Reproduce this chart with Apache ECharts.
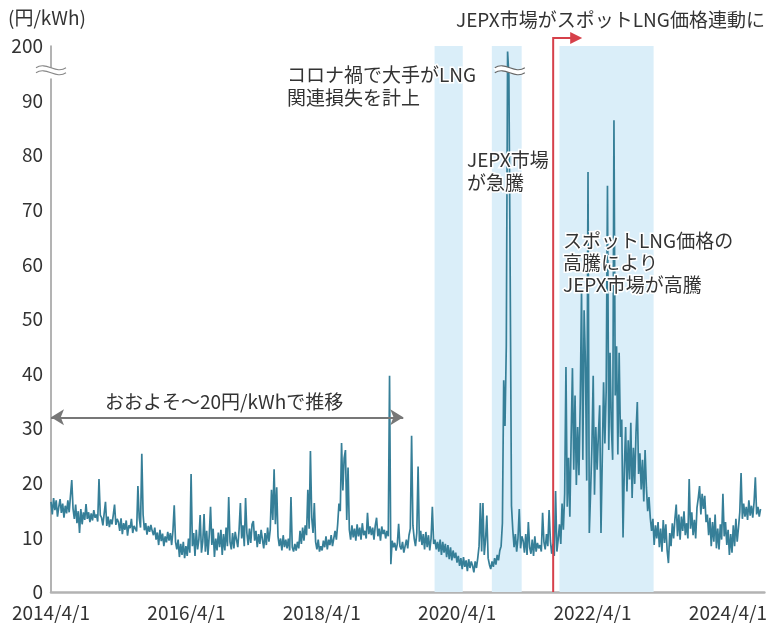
<!DOCTYPE html>
<html><head><meta charset="utf-8">
<script src="https://cdn.jsdelivr.net/npm/echarts@6/dist/echarts.min.js"></script>
<style>html,body{margin:0;padding:0;background:#fff}#c{width:770px;height:623px}</style>
</head><body><div id="c"></div>
<script>
const FONT = '"Noto Sans CJK JP", "Noto Sans", sans-serif';
// weekly samples of JEPX daily price (yen/kWh) starting 2014/4/1
const firstSample = '2014/4/1';
const fy2014 = [16.5,14.2,17.2,15,16.8,13.8,15.6,17,14.5,16.2,13.6,15.8,14.4,
  16.8,14.6,17.6,20.5,15.2,13.4,16,12.6,14.8,10.8,15.2,12.4,14.6,
  13.2,16.1,13.4,14.6,12.8,14.4,13.1,15,13.6,14.2,12.9,20.7,14.1,
  13.6,12.2,14.4,16.5,12.1,13.8,11.9,13.3,12.4,14.1,16,12.3,13.4];
const fy2015 = [12.8,11.2,13.5,10.6,12.6,11.4,13.1,10.3,12.2,11.7,13.4,10.8,12.1,
  12.4,11.1,19.4,13.6,11.8,25.3,14.2,11.3,12.6,10.5,12.1,11.0,12.3,
  11.2,10.4,11.8,9.6,10.9,8.6,11.4,9.3,10.7,8.4,10.2,9.1,11.0,
  9.4,10.8,8.6,11.2,15.9,9.2,7.8,9.6,6.4,8.8,6.8,9.2,6.2];
const fy2016 = [8.4,6.6,9.8,7.2,21.6,8.4,10.8,6.6,11.4,7.8,9.6,14.1,7.2,
  9.2,14.3,7.4,11.2,6.8,10.4,15.6,8.6,11.6,6.4,9.8,7.6,10.9,
  8.2,11.4,6.8,10.6,7.6,11.8,8.4,17.4,9.2,7.8,10.8,8.0,11.0,
  9.6,8.2,11.4,16.3,9.8,12.2,8.4,17.2,10.8,8.6,11.6,9.0,12.4];
const fy2017 = [13.0,9.4,11.2,8.2,10.6,8.8,11.4,9.6,8.0,10.8,8.6,11.8,9.2,
  11.4,18.7,13.2,22.5,12.4,19.2,10.2,8.4,9.8,7.6,10.4,8.2,9.6,
  8.0,9.8,7.6,17.4,8.2,7.4,8.8,7.6,9.2,8.0,11.2,8.8,11.8,
  9.4,12.2,10.4,18.7,11.6,25.8,13.6,10.8,16.3,9.2,7.8,9.6,7.4];
const fy2018 = [8.4,7.6,9.4,8.2,10.2,7.8,9.6,8.6,10.4,8.4,9.8,11.2,9.6,
  12.4,16.2,14.8,27.3,18.6,24.5,26.0,13.2,22.8,11.4,9.6,12.2,10.0,
  11.6,9.4,12.4,10.2,11.8,9.6,12.6,10.4,11.2,9.8,14.5,10.6,12.0,
  10.4,11.8,9.6,12.2,13.6,10.2,11.6,9.4,12.0,10.6,11.4,9.8,11.2];
const fy2019 = [10.2,39.6,5.1,9.4,8.2,9.0,7.6,8.8,12.5,8.4,7.8,9.2,7.2,
  8.4,9.6,8.0,10.4,11.6,28.6,12.2,9.8,8.4,10.8,23.0,9.2,11.2,
  8.6,10.6,7.8,11.0,8.2,10.4,7.6,9.8,15.6,8.8,9.6,7.8,9.2,
  7.4,9.6,6.8,9.2,7.2,8.8,6.4,8.6,6.0,8.2,5.8,7.6,6.2];
const fy2020 = [7.2,5.4,6.6,4.8,6.2,4.2,6.4,4.6,5.8,3.8,6.0,4.4,5.6,
  4.8,3.6,5.6,4.4,6.2,8.4,16.3,7.4,16.3,6.8,9.6,14.0,6.2,
  5.0,4.2,5.6,4.6,6.2,5.0,6.8,5.8,7.6,8.4,12.6,38.8,30.4,
  45,199,120,58,15.8,11.4,8.2,10.6,7.4,9.8,15.2,8.0,10.2];
const fy2021 = [9.4,7.2,10.6,6.8,12.8,8.2,7.0,9.6,6.6,10.2,7.4,9.0,8.0,
  8.6,7.4,14.5,9.2,7.8,10.6,8.4,15.0,9.4,7.0,8.8,6.6,18.5,
  7.4,9.6,12.4,8.8,16.2,11.4,18.0,41.2,15.6,24.6,13.8,28.4,41.0,
  22.4,36.0,19.6,30.2,21.4,34.6,55.3,24.2,51.6,42.0,20.4,76.9,10.8];
const fy2022 = [18.4,26.6,39.6,17.8,30.2,22.4,28.8,34.2,10.8,24.6,38.4,27.2,36.8,
  74.4,26.0,43.8,30.4,24.2,86.4,36.0,45.0,25.2,43.8,28.4,31.6,10.0,
  22.6,30.2,18.4,27.8,20.6,31.0,17.2,26.4,19.8,29.2,34.8,21.6,25.4,
  18.8,24.2,16.6,26.0,19.2,14.8,17.4,13.6,11.2,13.4,8.6,12.2,9.8];
const fy2023 = [12.8,8.2,11.6,7.4,13.2,9.0,12.4,7.6,5.3,10.8,8.4,12.6,9.8,
  13.4,16.0,10.2,14.2,9.6,13.8,11.2,14.8,10.4,12.6,9.8,20.7,11.6,
  14.6,10.4,13.2,9.8,15.4,17.2,19.4,14.2,18.0,15.2,17.6,12.8,14.2,
  10.4,13.6,8.4,12.8,9.2,14.2,8.0,11.6,7.8,12.4,9.6,18.0,10.2];
const fy2024 = [12.8,8.6,11.4,6.8,10.6,7.2,12.2,8.4,13.4,9.2,11.8,14.6,21.8,
  13.4,16.2,13.8,15.6,13.2,16.8,14.0,15.8,13.6,16.4,21.0,14.2,15.6,
  13.8,15.2];

const xTickLabels = ['2014/4/1','2016/4/1','2018/4/1','2020/4/1','2022/4/1','2024/4/1'];
const xAxisEnd = '2024/10/15';
const yTickValues = [0,10,20,30,40,50,60,70,80,90,200];
const axisBreak = {start: 94, end: 196, gap: 2};
const shadedPeriods = [['2019/12/1','2020/5/1'],['2020/10/5','2021/3/15'],['2021/10/5','2023/2/25']];
const linkDate = '2021/9/1';
const flatPeriod = ['2014/4/1','2019/6/15'];
const flatLevel = 32;
const spikeDate = '2021/1/10';

function ts(s){ const p = s.split('/').map(Number); return new Date(p[0], p[1]-1, p[2]).getTime(); }
function fmt(v){ const d = new Date(v); return d.getFullYear()+'/'+(d.getMonth()+1)+'/'+d.getDate(); }

const prices = [].concat(fy2014, fy2015, fy2016, fy2017, fy2018, fy2019, fy2020, fy2021, fy2022, fy2023, fy2024);
const p0 = firstSample.split('/').map(Number);
const seriesData = prices.map((v, i) => [new Date(p0[0], p0[1]-1, p0[2] + 7*i).getTime(), v]);

const chart = echarts.init(document.getElementById('c'), null, {renderer: 'canvas'});
const option = {
  animation: false,
  backgroundColor: '#fff',
  grid: {left: 51, right: 2, top: 46, bottom: 31},
  xAxis: {
    type: 'value', min: ts(firstSample), max: ts(xAxisEnd), scale: true,
    axisLine: {show: true, lineStyle: {color: '#b3b3b3', width: 2.5}},
    axisTick: {show: false}, splitLine: {show: false},
    axisLabel: {customValues: xTickLabels.map(ts), formatter: v => fmt(v), color: '#333',
      fontSize: 19, fontFamily: FONT, margin: 11, hideOverlap: false}
  },
  yAxis: {
    type: 'value', min: 0, max: 200, interval: 10,
    breaks: [axisBreak], breakArea: {show: false},
    breakLabelLayout: {moveOverlap: false},
    axisLine: {show: true, lineStyle: {color: '#9a9a9a', width: 1.5}},
    axisTick: {show: false}, splitLine: {show: false},
    axisLabel: {customValues: yTickValues, color: '#333', fontSize: 19, fontFamily: FONT, margin: 8,
      hideOverlap: false, showMinLabel: true, showMaxLabel: true,
      formatter: v => String(v)}
  },
  series: [
    {type: 'line', data: [], z: 1, silent: true,
     markArea: {silent: true, itemStyle: {color: '#daeef9'},
       data: shadedPeriods.map(p => [{xAxis: ts(p[0])}, {xAxis: ts(p[1])}])},
     markLine: {silent: true, symbol: ['arrow', 'arrow'], symbolSize: [12, 13],
       lineStyle: {color: '#777', width: 2, type: 'solid'}, label: {show: false},
       data: [[{coord: [ts(flatPeriod[0]), flatLevel]}, {coord: [ts(flatPeriod[1]), flatLevel]}]]}
    },
    {type: 'line', data: seriesData, showSymbol: false, symbol: 'none', z: 3, silent: true,
     lineStyle: {color: '#367f98', width: 1.7}}
  ]
};
chart.setOption(option);

const xr = chart.convertToPixel({xAxisIndex: 0}, ts(linkDate));
const y0 = chart.convertToPixel({yAxisIndex: 0}, 0);
const yb = (chart.convertToPixel({yAxisIndex: 0}, axisBreak.start) + chart.convertToPixel({yAxisIndex: 0}, axisBreak.end)) / 2 - 3;
const xAxisPx = chart.convertToPixel({xAxisIndex: 0}, ts(firstSample));
const xSpike = chart.convertToPixel({xAxisIndex: 0}, ts(spikeDate));

function wave(cx, cy, w, color){
  const mk = (dy, stroke, lw) => ({type: 'bezierCurve', silent: true, z: 50,
    shape: {x1: cx - w/2, y1: cy + dy, cpx1: cx - w/6, cpy1: cy + dy - 7, cpx2: cx + w/6, cpy2: cy + dy + 7, x2: cx + w/2, y2: cy + dy},
    style: {stroke: stroke, lineWidth: lw, fill: null}});
  return [mk(0, '#fff', 5), mk(-2.5, color, 1.1), mk(2.5, color, 1.1)];
}
function txt(s, x, y){
  return {type: 'text', x: x, y: y, silent: true, z: 60,
    style: {text: s, font: '19px ' + FONT, fill: '#333', verticalAlign: 'middle', align: 'left',
      stroke: '#fff', lineWidth: 3}};
}
const graphics = [].concat(
  wave(xAxisPx, yb, 30, '#888'),
  wave(xSpike, yb, 30, '#666'),
  [
    {type: 'polyline', silent: true, z: 40, shape: {points: [[xr, y0], [xr, 38], [xr + 18, 38]]},
     style: {stroke: '#d6404a', lineWidth: 2, fill: null}},
    {type: 'polygon', silent: true, z: 40, shape: {points: [[xr + 17, 32], [xr + 29, 38], [xr + 17, 44]]},
     style: {fill: '#d6404a'}},
    {type: 'text', x: 8, y: 18, silent: true, style: {text: '(円/kWh)', font: '19px ' + FONT, fill: '#333', verticalAlign: 'middle'}},
    txt('JEPX市場がスポットLNG価格連動に', 456, 20),
    txt('コロナ禍で大手がLNG', 287, 75),
    txt('関連損失を計上', 287, 98),
    txt('JEPX市場', 467, 160),
    txt('が急騰', 467, 183),
    txt('スポットLNG価格の', 563, 241),
    txt('高騰により', 563, 263),
    txt('JEPX市場が高騰', 563, 285),
    txt('おおよそ〜20円/kWhで推移', 105, 402)
  ]);
chart.setOption({graphic: graphics});
</script></body></html>
